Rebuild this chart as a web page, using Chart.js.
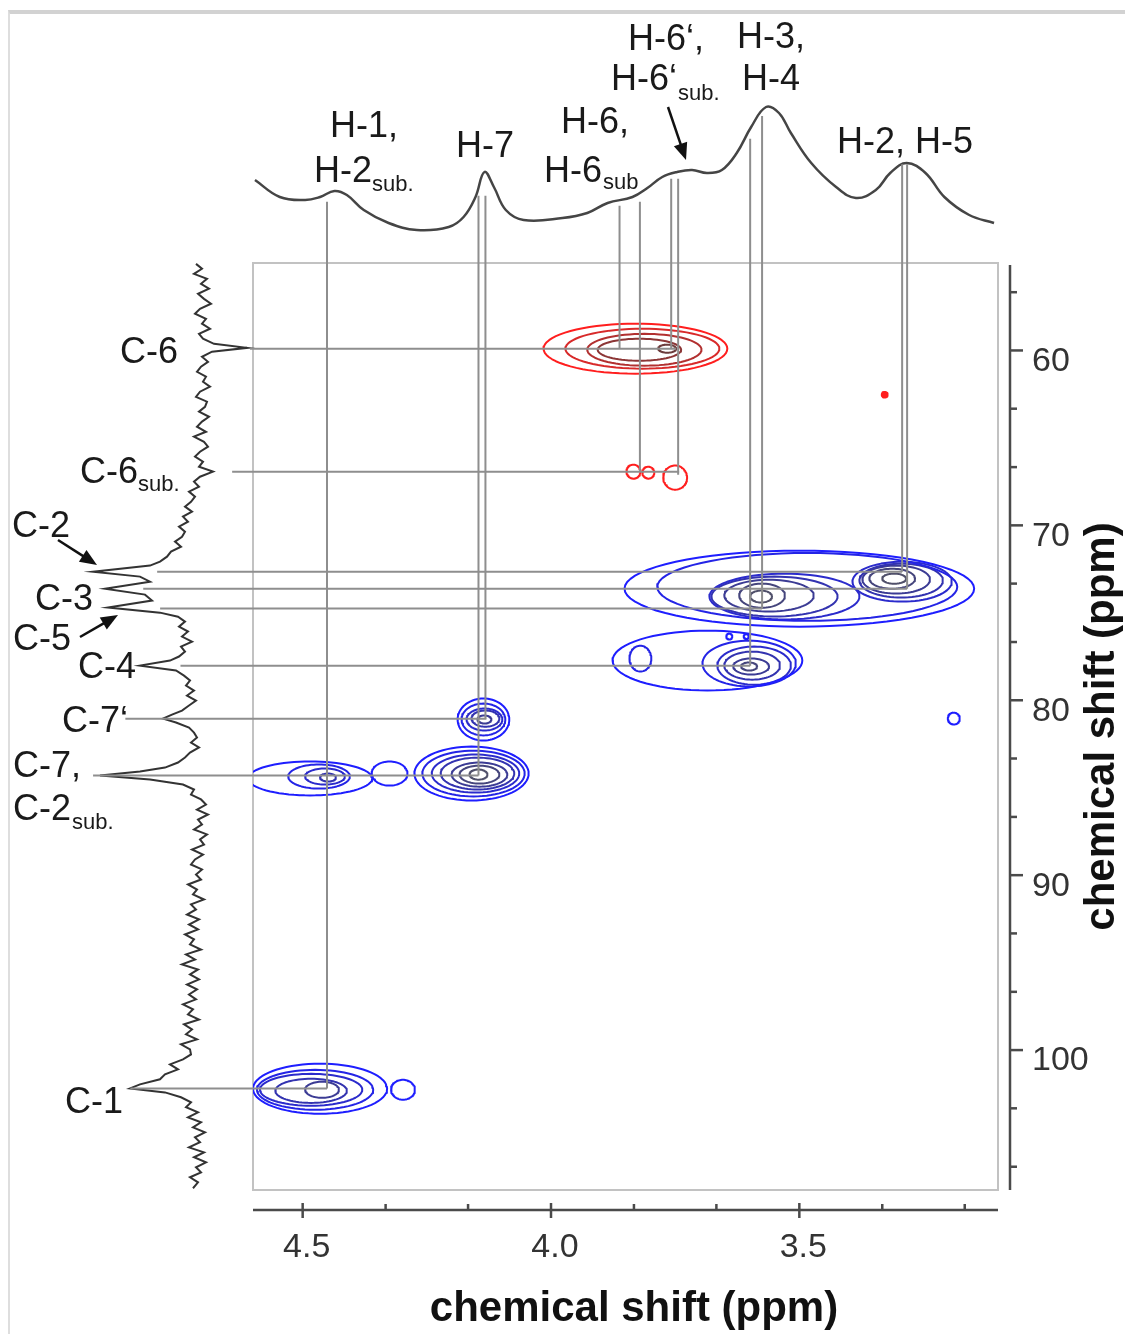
<!DOCTYPE html>
<html>
<head>
<meta charset="utf-8">
<script src="https://cdn.jsdelivr.net/npm/chart.js@4.4.1/dist/chart.umd.min.js"></script>
<style>
  html, body { margin: 0; padding: 0; background: #fff; }
  #wrap { position: relative; width: 1125px; height: 1334px; overflow: hidden; }
  #wrap canvas { position: absolute; left: 0; top: 0; }
  #edge { position: absolute; left: 8px; top: 10px; width: 1117px; height: 1324px;
          border-top: 4px solid #d2d2d2; border-left: 2px solid #dedede; box-sizing: border-box; }
</style>
</head>
<body>
<div id="wrap">
  <canvas id="hsqc" width="1125" height="1334"></canvas>
  <div id="edge"></div>
</div>
<script>
/* HSQC spectrum with 1H (top) and 13C (left) projections */

// 1H projection: shift (ppm) and intensity (a.u.)
var protonShift = [4.596, 4.546, 4.495, 4.465, 4.436, 4.411, 4.377, 4.327, 4.270, 4.206,
  4.176, 4.152, 4.134, 4.115, 4.091, 4.055, 3.977, 3.927, 3.886, 3.836,
  3.806, 3.776, 3.746, 3.716, 3.686, 3.656, 3.626, 3.597, 3.567, 3.541,
  3.517, 3.476, 3.426, 3.386, 3.346, 3.317, 3.284, 3.246, 3.208, 3.158, 3.108];
var protonInt = [50, 33, 30, 33, 39, 35, 20, 7, 0, 3,
  13, 33, 58, 43, 20, 10, 12, 17, 27, 33,
  42, 53, 58, 60, 57, 60, 77, 103, 123, 117,
  97, 67, 43, 32, 40, 57, 67, 57, 33, 15, 7];

// 13C projection: shift (ppm) and intensity (a.u.)
var carbonShift = [55.05, 55.33, 55.62, 55.90, 56.19, 56.47, 56.76, 57.05, 57.33, 57.62,
  57.90, 58.19, 58.47, 58.76, 59.05, 59.33, 59.62, 59.85, 60.07, 60.36,
  60.65, 60.93, 61.22, 61.50, 61.79, 62.07, 62.36, 62.65, 62.93, 63.22,
  63.50, 63.79, 64.07, 64.36, 64.65, 64.93, 65.22, 65.50, 65.79, 66.07,
  66.36, 66.65, 66.93, 67.22, 67.50, 67.79, 68.07, 68.36, 68.65, 68.93,
  69.22, 69.50, 69.79, 70.07, 70.36, 70.65, 70.93, 71.22, 71.50, 71.79,
  72.07, 72.30, 72.65, 72.93, 73.22, 73.62, 73.96, 74.30, 74.70, 74.99,
  75.22, 75.50, 75.79, 76.07, 76.36, 76.65, 76.93, 77.22, 77.50, 77.73,
  78.02, 78.30, 78.59, 78.87, 79.16, 79.45, 79.73, 80.02, 80.30, 80.59,
  80.82, 81.05, 81.27, 81.56, 81.85, 82.13, 82.42, 82.70, 82.99, 83.27,
  83.56, 83.85, 84.07, 84.30, 84.53, 84.82, 85.10, 85.39, 85.67, 85.96,
  86.25, 86.53, 86.82, 87.10, 87.39, 87.67, 87.96, 88.25, 88.53, 88.82,
  89.10, 89.39, 89.67, 89.96, 90.25, 90.53, 90.82, 91.10, 91.39, 91.67,
  91.96, 92.25, 92.53, 92.82, 93.10, 93.39, 93.67, 93.96, 94.25, 94.53,
  94.82, 95.10, 95.39, 95.67, 95.96, 96.25, 96.53, 96.82, 97.10, 97.39,
  97.67, 97.96, 98.25, 98.53, 98.82, 99.10, 99.39, 99.67, 99.96, 100.25,
  100.53, 100.82, 101.10, 101.39, 101.67, 101.96, 102.19, 102.42, 102.70, 102.99,
  103.27, 103.56, 103.85, 104.13, 104.42, 104.70, 104.99, 105.27, 105.56, 105.85,
  106.13, 106.42, 106.70, 106.99, 107.27, 107.56, 107.90];
var carbonInt = [4, -2, 6, -7, -1, -9, 2, -4, -11, 0,
  5, -6, -2, -10, 1, -3, -14, -47, -12, -2,
  -8, -1, 3, -6, -3, -10, 0, 4, -7, -5,
  1, -9, -2, 3, -6, 6, -4, -8, 0, 5,
  -3, 1, -13, 0, 6, 1, 11, 5, 9, 15,
  8, 17, 12, 21, 15, 18, 25, 19, 29, 33,
  40, 50, 107, 60, 50, 95, 55, 48, 92, 40,
  22, 15, 21, 12, 18, 8, 19, 15, 21, 30,
  60, 24, 16, 10, 14, 6, 13, 4, 11, 18,
  28, 37, 24, 11, 6, 3, 9, 1, 10, 15,
  22, 35, 60, 100, 50, 17, 6, 9, -1, -6,
  3, -8, 2, -2, 6, -7, 0, -4, 8, -3,
  5, 9, -2, 4, -1, 12, 3, 7, -4, 9,
  4, 13, 1, 11, 2, 15, 6, 10, -1, 14,
  5, 18, 2, 10, 1, 13, 3, 11, 4, 17,
  7, 12, 1, 16, 8, 14, 3, 19, 10, 9,
  17, 30, 22, 35, 40, 60, 70, 35, 19, 9,
  14, 2, 12, -1, 7, -5, 5, 0, 11, -4,
  6, -6, 4, -1, 10, 2, 7];

// 2D cross peak contours: centre (1H, 13C ppm), half widths (ppm), level, sign
var contourH = [3.830, 3.816, 3.812, 3.822, 3.766, 3.834, 3.804, 3.750, 3.328,
  3.500, 3.484, 3.530, 3.550, 3.561, 3.575, 3.577, 3.293, 3.295, 3.305, 3.313, 3.309,
  3.685, 3.601, 3.591, 3.595, 3.597, 3.601, 3.820, 3.641, 3.607,
  4.136, 4.136, 4.134, 4.132, 4.134,
  4.160, 4.156, 4.152, 4.148, 4.144, 4.144, 4.146,
  4.485, 4.467, 4.455, 4.449, 4.325,
  4.465, 4.475, 4.483, 4.483, 4.461, 4.298, 3.189];
var contourC = [59.90, 59.90, 59.96, 59.96, 59.90, 66.93, 66.99, 67.27, 62.53,
  73.62, 73.52, 74.07, 74.07, 74.02, 74.02, 74.07, 73.22, 73.16, 73.10, 73.05, 73.05,
  77.73, 77.90, 78.02, 78.02, 78.07, 78.07, 77.62, 76.36, 76.36,
  81.10, 81.10, 81.10, 81.05, 81.10,
  84.19, 84.19, 84.19, 84.19, 84.25, 84.25, 84.25,
  84.47, 84.36, 84.36, 84.42, 84.19,
  102.21, 102.27, 102.27, 102.33, 102.27, 102.27, 81.05];
var contourHalfH = [0.185, 0.155, 0.115, 0.084, 0.018, 0.014, 0.012, 0.024, 0.004,
  0.352, 0.302, 0.151, 0.127, 0.090, 0.046, 0.022, 0.100, 0.084, 0.068, 0.046, 0.024,
  0.191, 0.094, 0.074, 0.056, 0.036, 0.016, 0.022, 0.006, 0.005,
  0.052, 0.044, 0.036, 0.028, 0.014,
  0.115, 0.103, 0.088, 0.074, 0.056, 0.040, 0.018,
  0.125, 0.062, 0.040, 0.016, 0.036,
  0.135, 0.117, 0.103, 0.072, 0.034, 0.024, 0.012];
var contourHalfC = [1.43, 1.14, 0.91, 0.63, 0.23, 0.40, 0.34, 0.69, 0.10,
  2.17, 1.94, 1.31, 1.14, 0.91, 0.69, 0.34, 1.14, 0.97, 0.80, 0.57, 0.29,
  1.71, 1.31, 1.09, 0.80, 0.46, 0.23, 0.74, 0.17, 0.14,
  1.20, 0.91, 0.63, 0.46, 0.23,
  1.54, 1.31, 1.09, 0.91, 0.69, 0.51, 0.29,
  0.97, 0.69, 0.46, 0.23, 0.69,
  1.43, 1.14, 0.91, 0.69, 0.46, 0.57, 0.34];
var contourLevel = [0, 1, 2, 3, 4, 0, 0, 0, 0,
  0, 1, 2, 3, 4, 5, 6, 2, 3, 4, 5, 6,
  0, 1, 2, 3, 4, 5, 1, 0, 0,
  0, 1, 2, 3, 4,
  0, 1, 2, 3, 4, 5, 6,
  0, 1, 2, 3, 0,
  0, 1, 2, 3, 4, 0, 0];
var contourSign = [-1, -1, -1, -1, -1, -1, -1, -1, -1,
  1, 1, 1, 1, 1, 1, 1, 1, 1, 1, 1, 1,
  1, 1, 1, 1, 1, 1, 1, 1, 1,
  1, 1, 1, 1, 1,
  1, 1, 1, 1, 1, 1, 1,
  1, 1, 1, 1, 1,
  1, 1, 1, 1, 1, 1, 1];

// assignment lines: vertical (1H) and horizontal (13C)
var vLineH = [4.451, 4.146, 4.132, 3.862, 3.821, 3.758, 3.744, 3.599, 3.575, 3.293, 3.283];
var vLineFrom = [51.50, 51.16, 51.16, 51.73, 51.50, 50.18, 50.18, 47.90, 46.59, 49.36, 49.36];
var vLineTo = [102.19, 84.30, 81.05, 59.90, 66.93, 59.90, 67.10, 78.02, 74.76, 72.65, 73.62];
var hLineC = [59.90, 66.93, 72.65, 73.62, 74.76, 78.02, 81.05, 84.30, 102.19];
var hLineFrom = [4.606, 4.642, 4.793, 4.821, 4.787, 4.746, 4.857, 4.922, 4.847];
var hLineTo = [3.748, 3.742, 3.293, 3.283, 3.575, 3.599, 4.130, 4.146, 4.451];

// axis ticks
var xMajor = [4.5, 4.0, 3.5];
var xMinor = [4.333, 4.167, 3.833, 3.667, 3.333, 3.167];
var yMajor = [60, 70, 80, 90, 100];
var yMinor = [56.67, 63.33, 66.67, 73.33, 76.67, 83.33, 86.67, 93.33, 96.67, 103.33, 106.67];

var blueShades = ['#1e1eff', '#2424e6', '#2b2bcc', '#3333b0', '#3b3b94', '#45457c', '#50506a'];
var redShades = ['#ff1e1e', '#d82a2a', '#b23030', '#8c3636', '#6c3c3c'];

function ellipse(h, c, rh, rc) {
  var pts = [];
  for (var k = 0; k <= 72; k++) {
    var t = k / 72 * Math.PI * 2;
    pts.push({ x: h + rh * Math.cos(t), y: c + rc * Math.sin(t) });
  }
  return pts;
}

var datasets = [];
var i;
for (i = 0; i < vLineH.length; i++) {
  datasets.push({
    data: [{ x: vLineH[i], y: vLineFrom[i] }, { x: vLineH[i], y: vLineTo[i] }],
    showLine: true, borderColor: '#8e8e8e', borderWidth: 2, pointRadius: 0, clip: false, order: 0
  });
}
for (i = 0; i < hLineC.length; i++) {
  datasets.push({
    data: [{ x: hLineFrom[i], y: hLineC[i] }, { x: hLineTo[i], y: hLineC[i] }],
    showLine: true, borderColor: '#8e8e8e', borderWidth: 2, pointRadius: 0, clip: false, order: 0
  });
}
datasets.push({
  xAxisID: 'x', yAxisID: 'yH',
  data: protonShift.map(function (v, k) { return { x: v, y: protonInt[k] }; }),
  showLine: true, tension: 0.4, borderColor: '#454545', borderWidth: 2.5, pointRadius: 0, clip: false, order: 1
});
datasets.push({
  xAxisID: 'xC', yAxisID: 'y',
  data: carbonShift.map(function (v, k) { return { x: carbonInt[k], y: v }; }),
  showLine: true, tension: 0, borderColor: '#333', borderWidth: 2, pointRadius: 0, clip: false, order: 1
});
for (i = 0; i < contourH.length; i++) {
  var shades = contourSign[i] < 0 ? redShades : blueShades;
  datasets.push({
    xAxisID: 'x', yAxisID: 'y',
    data: ellipse(contourH[i], contourC[i], contourHalfH[i], contourHalfC[i]),
    showLine: true, tension: 0, borderColor: shades[Math.min(contourLevel[i], shades.length - 1)],
    borderWidth: contourHalfH[i] < 0.0045 ? 4 : 2, borderJoinStyle: 'round', borderCapStyle: 'round',
    pointRadius: 0, order: 2
  });
}

var FONT = '"Liberation Sans", Arial, sans-serif';

var decor = {
  id: 'decor',
  beforeDatasetsDraw: function (chart) {
    var a = chart.chartArea, ctx = chart.ctx;
    ctx.save();
    ctx.strokeStyle = '#c2c2c2';
    ctx.lineWidth = 2;
    ctx.strokeRect(a.left, a.top, a.right - a.left, a.bottom - a.top);
    ctx.restore();
  },
  afterDraw: function (chart) {
    var a = chart.chartArea, ctx = chart.ctx;
    var xs = chart.scales.x, ys = chart.scales.y;
    function seg(x1, y1, x2, y2) { ctx.beginPath(); ctx.moveTo(x1, y1); ctx.lineTo(x2, y2); ctx.stroke(); }
    ctx.save();
    // offset axes
    ctx.strokeStyle = '#4a4a4a';
    ctx.lineWidth = 2.5;
    var ay = a.bottom + 20, ax = a.right + 12;
    seg(a.left, ay, a.right, ay);
    xMajor.forEach(function (v) { var p = xs.getPixelForValue(v); seg(p, ay - 7, p, ay + 8); });
    xMinor.forEach(function (v) { var p = xs.getPixelForValue(v); seg(p, ay - 6, p, ay); });
    seg(ax, a.top + 2, ax, a.bottom);
    yMajor.forEach(function (v) { var p = ys.getPixelForValue(v); seg(ax, p, ax + 13, p); });
    yMinor.forEach(function (v) { var p = ys.getPixelForValue(v); seg(ax, p, ax + 7, p); });

    // axis titles
    ctx.fillStyle = '#111';
    ctx.font = 'bold 42px ' + FONT;
    ctx.textAlign = 'center';
    ctx.textBaseline = 'alphabetic';
    ctx.fillText('chemical shift (ppm)', 634, 1321);
    ctx.save();
    ctx.translate(1114, (a.top + a.bottom) / 2);
    ctx.rotate(-Math.PI / 2);
    ctx.fillText('chemical shift (ppm)', 0, 0);
    ctx.restore();

    // peak labels
    ctx.textAlign = 'left';
    ctx.fillStyle = '#1a1a1a';
    var big = '36px ' + FONT, small = '22px ' + FONT;
    var labels = [
      ['H-1,', 330, 137, big], ['H-2', 314, 182, big], ['sub.', 372, 191, small],
      ['H-7', 456, 157, big],
      ['H-6,', 561, 133, big], ['H-6', 544, 182, big], ['sub', 603, 189, small],
      ['H-6\u2018,', 628, 50, big], ['H-6\u2018', 611, 90, big], ['sub.', 678, 100, small],
      ['H-3,', 737, 48, big], ['H-4', 742, 90, big],
      ['H-2, H-5', 837, 153, big],
      ['C-6', 120, 363, big], ['C-6', 80, 483, big], ['sub.', 138, 491, small],
      ['C-2', 12, 537, big], ['C-3', 35, 610, big], ['C-5', 13, 650, big],
      ['C-4', 78, 678, big], ['C-7\u2018', 62, 732, big],
      ['C-7,', 13, 777, big], ['C-2', 13, 820, big], ['sub.', 72, 829, small],
      ['C-1', 65, 1113, big]
    ];
    labels.forEach(function (l) { ctx.font = l[3]; ctx.fillText(l[0], l[1], l[2]); });

    // arrows
    function arrow(x1, y1, x2, y2) {
      var ang = Math.atan2(y2 - y1, x2 - x1), L = 17, W = 7;
      ctx.strokeStyle = '#111';
      ctx.lineWidth = 2.5;
      seg(x1, y1, x2 - Math.cos(ang) * L * 0.8, y2 - Math.sin(ang) * L * 0.8);
      ctx.fillStyle = '#111';
      ctx.beginPath();
      ctx.moveTo(x2, y2);
      ctx.lineTo(x2 - L * Math.cos(ang) + W * Math.sin(ang), y2 - L * Math.sin(ang) - W * Math.cos(ang));
      ctx.lineTo(x2 - L * Math.cos(ang) - W * Math.sin(ang), y2 - L * Math.sin(ang) + W * Math.cos(ang));
      ctx.closePath();
      ctx.fill();
    }
    arrow(58, 540, 97, 565);
    arrow(80, 637, 118, 615);
    arrow(668, 107, 686, 160);
    ctx.restore();
  }
};

new Chart(document.getElementById('hsqc'), {
  type: 'scatter',
  data: { datasets: datasets },
  options: {
    responsive: false,
    animation: false,
    devicePixelRatio: 1,
    layout: { padding: { left: 253, top: 263, right: 0, bottom: 0 } },
    plugins: { legend: { display: false }, tooltip: { enabled: false } },
    elements: { point: { radius: 0 } },
    scales: {
      x: {
        type: 'linear', position: 'bottom', reverse: true, min: 3.1, max: 4.6,
        grid: { display: false, drawTicks: false }, border: { display: false },
        afterBuildTicks: function (s) { s.ticks = xMajor.map(function (v) { return { value: v }; }); },
        afterFit: function (s) { s.height = 144; },
        ticks: {
          autoSkip: false, maxRotation: 0, padding: 37, labelOffset: 4, color: '#333',
          font: { family: FONT, size: 34 },
          callback: function (v) { return v.toFixed(1); }
        }
      },
      y: {
        type: 'linear', position: 'right', reverse: true, min: 55, max: 108,
        grid: { display: false, drawTicks: false }, border: { display: false },
        afterBuildTicks: function (s) { s.ticks = yMajor.map(function (v) { return { value: v }; }); },
        afterFit: function (s) { s.width = 127; },
        ticks: {
          autoSkip: false, padding: 34, labelOffset: 11, color: '#333',
          font: { family: FONT, size: 34 },
          callback: function (v) { return String(v); }
        }
      },
      xC: { type: 'linear', axis: 'x', display: false, reverse: true, min: -798, max: -53 },
      yH: { type: 'linear', axis: 'y', display: false, min: -960, max: -33 }
    }
  },
  plugins: [decor]
});
</script>
</body>
</html>
